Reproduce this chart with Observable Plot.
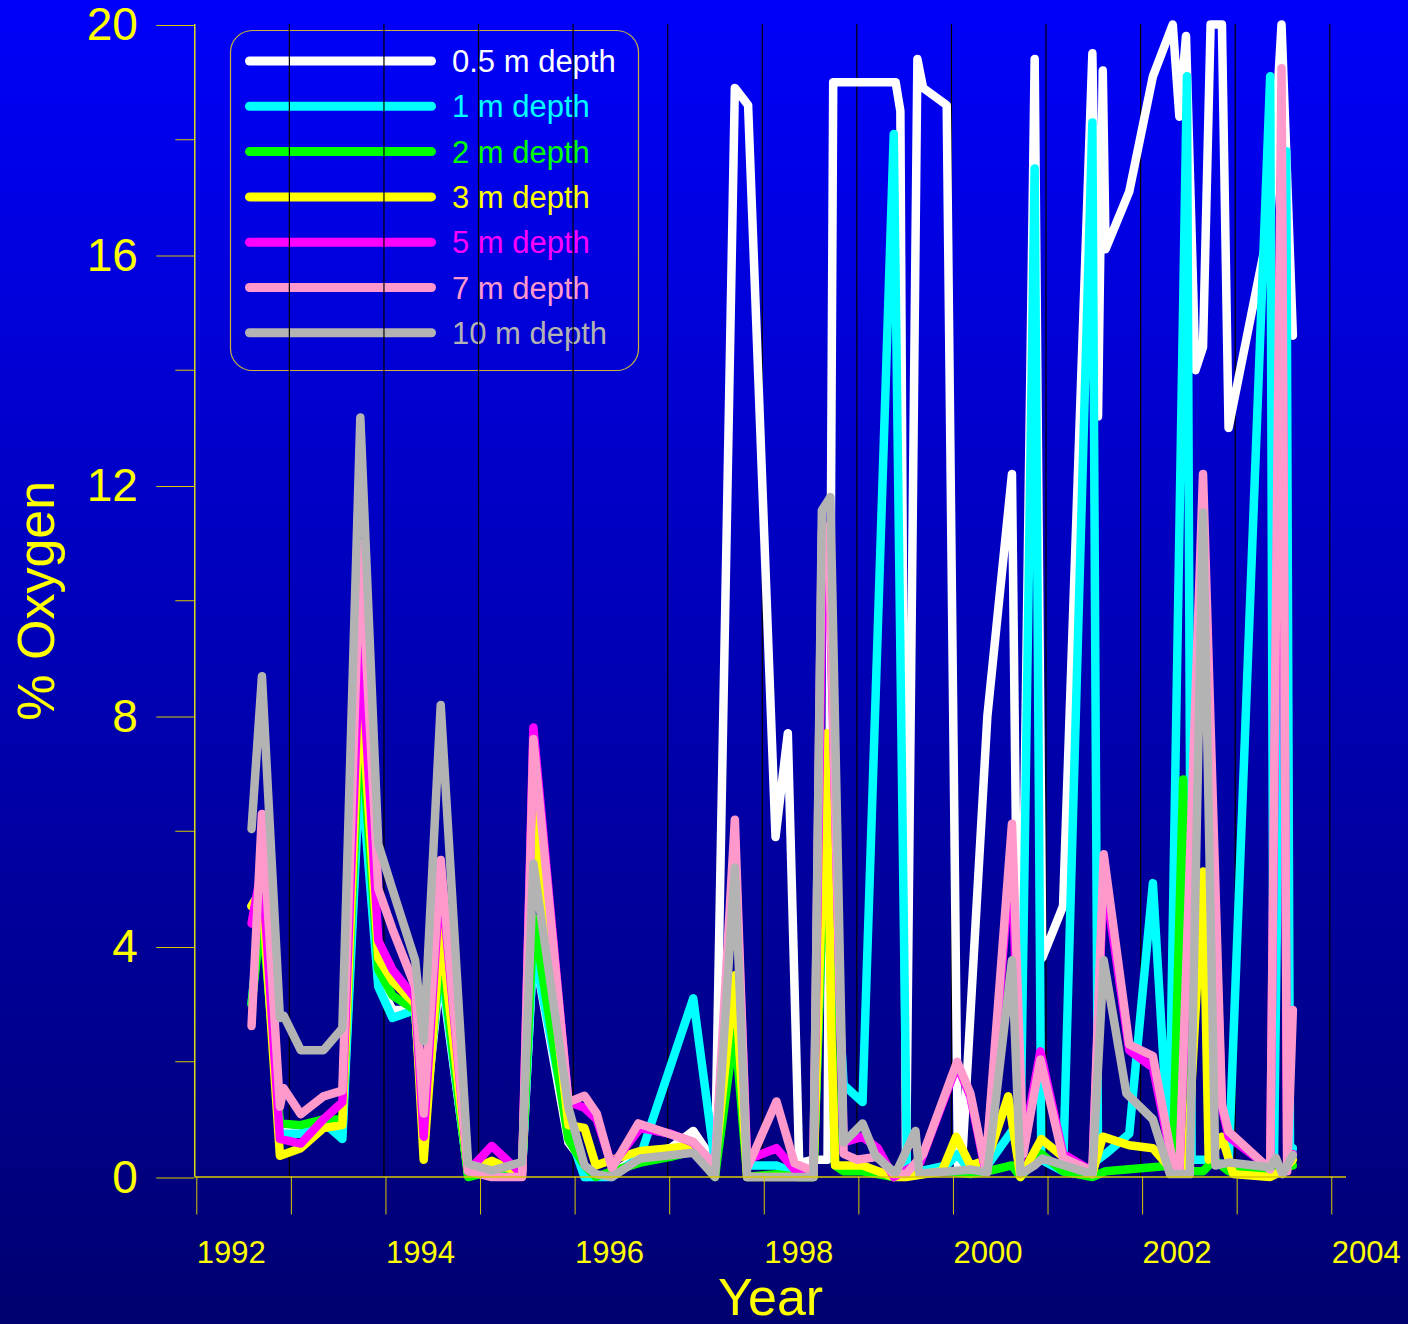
<!DOCTYPE html>
<html><head><meta charset="utf-8">
<script src="https://cdn.jsdelivr.net/npm/d3@7"></script>
<script src="https://cdn.jsdelivr.net/npm/@observablehq/plot@0.6"></script>
<style>
html,body{margin:0;padding:0;}
body{width:1408px;height:1324px;background:linear-gradient(to bottom,#0000fa 0%,#000070 100%);position:relative;overflow:hidden;font-family:"Liberation Sans",Arial,sans-serif;}
#chart{position:absolute;left:0;top:0;}
</style></head><body><div id="chart"></div>
<script>
// ---- data (decimal year, % oxygen) ----
const seriesNames = ["0.5 m depth","1 m depth","2 m depth","3 m depth","5 m depth","7 m depth","10 m depth"];
const seriesColors = ["#ffffff","#00ffff","#00ff00","#ffff00","#ff00ff","#ff99cc","#b3b3b3"];
const xTicks = [1992,1993,1994,1995,1996,1997,1998,1999,2000,2001,2002,2003,2004];
const xTickLabels = ["1992","","1994","","1996","","1998","","2000","","2002","","2004"];
const gridYears = [1993,1994,1995,1996,1997,1998,1999,2000,2001,2002,2003,2004];
const yMajor = [0,4,8,12,16,20];
const yMinor = [2,6,10,14,18];

const depth05 = [[1992.60,4.7],[1992.71,5.0],[1992.90,0.8],[1993.12,0.75],[1993.36,0.9],[1993.56,0.8],[1993.75,7.5],[1993.94,3.4],[1994.09,2.9],[1994.33,2.9],[1994.42,0.8],[1994.60,3.6],[1994.89,0.05],[1995.14,0.1],[1995.46,0.1],[1995.58,4.0],[1995.95,0.6],[1996.09,0.3],[1996.14,0.0],[1996.41,0.05],[1996.71,0.4],[1997.03,0.5],[1997.27,0.8],[1997.50,0.24],[1997.71,18.9],[1997.85,18.6],[1998.14,5.9],[1998.27,7.7],[1998.39,0.24],[1998.54,0.3],[1998.69,0.3],[1998.75,19.0],[1999.41,19.0],[1999.46,18.5],[1999.52,0.1],[1999.64,19.4],[1999.70,18.9],[1999.95,18.6],[2000.07,0.1],[2000.11,0.2],[2000.38,8.0],[2000.64,12.2],[2000.72,0.3],[2000.88,19.4],[2000.96,3.8],[2001.18,4.7],[2001.49,19.5],[2001.55,13.2],[2001.60,19.2],[2001.63,16.1],[2001.88,17.1],[2002.13,19.1],[2002.34,20.0],[2002.41,18.4],[2002.48,19.8],[2002.58,14.0],[2002.66,14.4],[2002.74,20.0],[2002.86,20.0],[2002.93,13.0],[2003.37,16.6],[2003.49,20.0],[2003.55,17.3],[2003.61,14.6]];
const depth1 = [[1992.60,3.0],[1992.71,4.8],[1992.90,0.75],[1993.12,0.75],[1993.36,0.95],[1993.56,0.66],[1993.75,7.2],[1993.94,3.3],[1994.09,2.76],[1994.33,2.9],[1994.42,0.9],[1994.60,3.7],[1994.89,0.05],[1995.14,0.1],[1995.46,0.15],[1995.58,4.0],[1995.95,0.8],[1996.12,0.0],[1996.41,0.0],[1996.71,0.36],[1997.27,3.1],[1997.50,0.24],[1997.71,3.0],[1997.84,0.2],[1998.15,0.2],[1998.38,0.05],[1998.54,0.1],[1998.68,6.7],[1998.86,1.6],[1999.06,1.3],[1999.39,18.1],[1999.53,0.1],[1999.67,0.1],[1999.95,0.2],[2000.06,0.4],[2000.20,0.1],[2000.38,0.2],[2000.64,0.8],[2000.73,0.6],[2000.88,17.5],[2000.95,0.3],[2001.18,0.1],[2001.49,18.3],[2001.55,0.3],[2001.63,0.4],[2001.88,0.75],[2002.13,5.1],[2002.30,0.4],[2002.49,19.1],[2002.54,0.3],[2002.66,0.3],[2002.93,0.2],[2003.37,19.1],[2003.41,0.2],[2003.54,17.8],[2003.58,0.3],[2003.61,0.5]];
const depth2 = [[1992.60,3.0],[1992.71,4.6],[1992.90,0.93],[1993.12,0.9],[1993.36,1.0],[1993.56,1.0],[1993.75,8.0],[1993.94,3.6],[1994.09,3.15],[1994.33,2.9],[1994.42,0.7],[1994.60,3.9],[1994.89,0.0],[1995.14,0.1],[1995.46,0.1],[1995.58,4.5],[1995.95,0.65],[1996.12,0.2],[1996.24,0.0],[1996.41,0.1],[1996.71,0.25],[1997.03,0.35],[1997.27,0.45],[1997.50,0.0],[1997.71,2.6],[1997.84,0.0],[1998.15,0.05],[1998.38,0.0],[1998.54,0.0],[1998.68,6.7],[1998.77,0.2],[1998.86,0.1],[1999.06,0.1],[1999.39,0.0],[1999.95,0.1],[2000.20,0.05],[2000.38,0.1],[2000.64,0.2],[2000.73,0.0],[2000.95,0.4],[2001.18,0.1],[2001.49,0.0],[2001.63,0.1],[2002.34,0.2],[2002.45,6.9],[2002.49,0.1],[2002.66,0.1],[2002.78,0.3],[2002.93,0.1],[2003.37,0.1],[2003.61,0.2]];
const depth3 = [[1992.60,4.7],[1992.71,5.0],[1992.90,0.37],[1993.12,0.5],[1993.36,0.85],[1993.56,0.9],[1993.75,8.6],[1993.94,3.8],[1994.09,3.4],[1994.33,3.0],[1994.42,0.3],[1994.60,4.3],[1994.89,0.1],[1995.14,0.28],[1995.46,0.05],[1995.58,6.3],[1995.95,0.9],[1996.12,0.85],[1996.24,0.2],[1996.41,0.3],[1996.71,0.45],[1997.03,0.5],[1997.27,0.55],[1997.50,0.2],[1997.71,3.5],[1997.84,0.0],[1998.15,0.0],[1998.38,0.0],[1998.54,0.0],[1998.68,7.7],[1998.73,2.5],[1998.77,0.2],[1999.06,0.2],[1999.39,0.0],[1999.52,0.0],[1999.90,0.1],[2000.05,0.7],[2000.20,0.2],[2000.38,0.3],[2000.60,1.4],[2000.73,0.0],[2000.95,0.66],[2001.18,0.35],[2001.49,0.05],[2001.60,0.7],[2001.88,0.55],[2002.13,0.5],[2002.34,0.1],[2002.49,0.1],[2002.66,5.3],[2002.72,0.3],[2002.86,0.7],[2002.98,0.05],[2003.37,0.0],[2003.49,0.1],[2003.61,0.3]];
const depth5 = [[1992.60,4.4],[1992.71,5.4],[1992.90,0.66],[1993.12,0.58],[1993.36,1.0],[1993.56,1.3],[1993.75,9.5],[1993.94,4.1],[1994.09,3.6],[1994.33,3.1],[1994.42,0.7],[1994.60,5.3],[1994.89,0.1],[1995.14,0.54],[1995.46,0.05],[1995.58,7.8],[1995.95,1.3],[1996.12,1.2],[1996.25,1.0],[1996.41,0.2],[1996.71,0.85],[1997.03,0.75],[1997.27,0.6],[1997.50,0.15],[1997.71,5.8],[1997.84,0.3],[1998.15,0.5],[1998.38,0.05],[1998.54,0.1],[1998.64,10.8],[1998.70,11.0],[1998.86,0.6],[1999.06,0.7],[1999.22,0.5],[1999.39,0.0],[1999.67,0.25],[2000.06,1.95],[2000.20,1.4],[2000.36,0.1],[2000.64,5.8],[2000.73,0.3],[2000.94,2.18],[2001.18,0.4],[2001.49,0.1],[2001.61,5.3],[2001.88,2.2],[2002.13,1.9],[2002.34,0.2],[2002.41,0.1],[2002.66,11.0],[2002.86,1.2],[2002.93,0.7],[2003.37,0.15],[2003.49,18.0],[2003.55,0.2],[2003.61,0.4]];
const depth7 = [[1992.60,2.62],[1992.71,6.3],[1992.90,1.22],[1992.94,1.54],[1993.12,1.09],[1993.36,1.4],[1993.56,1.5],[1993.75,11.0],[1993.94,5.0],[1994.09,4.3],[1994.33,3.3],[1994.42,1.1],[1994.60,5.5],[1994.89,0.1],[1995.14,0.0],[1995.46,0.0],[1995.58,7.6],[1995.95,1.3],[1996.12,1.41],[1996.25,1.1],[1996.41,0.15],[1996.69,0.93],[1997.27,0.61],[1997.50,0.2],[1997.71,6.2],[1997.84,0.15],[1998.15,1.31],[1998.34,0.24],[1998.54,0.1],[1998.63,11.2],[1998.70,11.3],[1998.86,0.4],[1999.00,0.3],[1999.22,0.35],[1999.39,0.05],[1999.52,0.05],[1999.70,0.4],[2000.06,2.0],[2000.20,1.45],[2000.36,0.15],[2000.64,6.13],[2000.76,0.4],[2000.94,2.04],[2001.18,0.33],[2001.49,0.1],[2001.61,5.6],[2001.88,2.3],[2002.13,2.1],[2002.34,0.26],[2002.41,0.1],[2002.66,12.2],[2002.86,1.26],[2002.93,0.79],[2003.37,0.13],[2003.49,19.24],[2003.55,0.1],[2003.61,2.9]];
const depth10 = [[1992.60,6.04],[1992.71,8.69],[1992.90,2.76],[1992.94,2.8],[1993.12,2.2],[1993.36,2.2],[1993.56,2.58],[1993.75,13.18],[1993.94,5.78],[1994.09,4.99],[1994.33,3.76],[1994.42,2.36],[1994.60,8.19],[1994.89,0.23],[1995.14,0.11],[1995.46,0.26],[1995.58,5.44],[1995.95,1.21],[1996.12,0.2],[1996.24,0.05],[1996.41,0.0],[1996.71,0.32],[1997.27,0.42],[1997.50,0.0],[1997.71,5.37],[1997.84,0.0],[1998.54,0.0],[1998.63,11.57],[1998.72,11.8],[1998.86,0.6],[1999.06,0.93],[1999.20,0.36],[1999.41,0.06],[1999.62,0.8],[1999.66,0.06],[2000.00,0.1],[2000.20,0.13],[2000.38,0.08],[2000.64,3.76],[2000.73,0.05],[2000.88,0.2],[2000.96,0.32],[2001.49,0.05],[2001.61,3.76],[2001.85,1.45],[2002.13,1.0],[2002.31,0.05],[2002.52,0.05],[2002.66,11.53],[2002.79,0.2],[2002.93,0.25],[2003.37,0.17],[2003.43,0.33],[2003.50,0.05],[2003.61,0.38]];

const series = [depth05, depth1, depth2, depth3, depth5, depth7, depth10];
const FONT = "'Liberation Sans', Arial, Helvetica, sans-serif";

// legend drawn inside the SVG (under the grid lines, as in the original)
function legendMark() {
  const g = d3.create("svg:g").attr("font-family", FONT);
  g.append("rect").attr("x", 230.5).attr("y", 30.5).attr("width", 408).attr("height", 340)
    .attr("rx", 22).attr("ry", 22).attr("fill", "none").attr("stroke", "#c8b43c").attr("stroke-width", 1.2);
  seriesNames.forEach((name, i) => {
    const y = 61 + i * 45.3;
    g.append("line").attr("x1", 249.5).attr("x2", 431.5).attr("y1", y).attr("y2", y)
      .attr("stroke", seriesColors[i]).attr("stroke-width", 9).attr("stroke-linecap", "round");
    g.append("text").attr("x", 452).attr("y", y + 11).attr("fill", seriesColors[i])
      .attr("text-anchor", "start").attr("font-size", 31).text(name);
  });
  return g.node();
}

const lineMarks = series.map((s, i) => Plot.line(s, {
  x: d => d[0], y: d => d[1], stroke: seriesColors[i], strokeWidth: 8.5,
  strokeLinecap: "round", strokeLinejoin: "round"
}));

const chart = Plot.plot({
  width: 1408, height: 1324,
  marginLeft: 194.3, marginRight: 62, marginTop: 24, marginBottom: 147.5,
  style: {background: "transparent", color: "yellow", fontFamily: FONT, overflow: "visible"},
  x: {domain: [1992, 2004.177], label: null},
  y: {domain: [0, 20], label: null},
  marks: [
    legendMark,
    Plot.ruleX(gridYears, {stroke: "black", strokeWidth: 1.2}),
    ...lineMarks,
    Plot.ruleY([0], {stroke: "#d8c800", strokeWidth: 1.3}),
    Plot.ruleX([1992], {stroke: "yellow", strokeWidth: 1.3}),
    Plot.axisX({ticks: xTicks, tickSize: 38, tickPadding: 26,
      tickFormat: d => xTickLabels[xTicks.indexOf(d)],
      textAnchor: "start", dx: 2, fontSize: 31, stroke: "#d8c800", fill: "yellow", label: null}),
    Plot.axisY({ticks: yMajor, tickSize: 38, tickPadding: 19, fontSize: 46, dy: 1, stroke: "#d8c800", fill: "yellow", label: null}),
    Plot.axisY({ticks: yMinor, tickSize: 19, tickFormat: () => "", stroke: "#d8c800", label: null}),
    Plot.text(["Year"], {frameAnchor: "bottom", dy: 121, fontSize: 52, fill: "yellow", lineAnchor: "middle", textAnchor: "middle"}),
    Plot.text(["% Oxygen"], {frameAnchor: "left", dx: -157, rotate: -90, fontSize: 52, fill: "yellow", lineAnchor: "middle", textAnchor: "middle"})
  ]
});
document.getElementById("chart").appendChild(chart);
</script></body></html>
